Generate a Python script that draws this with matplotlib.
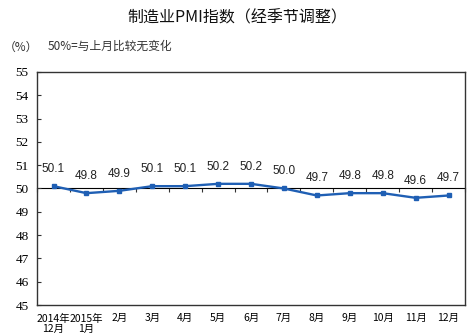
import matplotlib
matplotlib.use("Agg")
import matplotlib.pyplot as plt
import numpy as np

plt.rcParams['font.family'] = ['Noto Sans CJK SC', 'DejaVu Sans']

months = ["2014年\n12月", "2015年\n1月", "2月", "3月", "4月", "5月", "6月",
          "7月", "8月", "9月", "10月", "11月", "12月"]
pmi = [50.1, 49.8, 49.9, 50.1, 50.1, 50.2, 50.2, 50.0, 49.7, 49.8, 49.8, 49.6, 49.7]
yticks = list(range(45, 56))

line_color = "#1f5fb4"

fig = plt.figure(figsize=(4.75, 3.36), dpi=100)
ax = fig.add_axes([0.078, 0.092, 0.901, 0.694])

x = np.arange(len(months))
ax.plot(x, pmi, color=line_color, lw=1.7, marker='s', ms=3.5, mfc=line_color, mec=line_color)
for xi, v in zip(x, pmi):
    ax.annotate(f"{v:.1f}", (xi, v), xytext=(0, 8), textcoords='offset points',
                ha='center', va='bottom', fontsize=8.5, family='Liberation Sans',
                color='#222222')

ax.set_xlim(-0.5, len(months) - 0.5)
ax.set_ylim(45, 55)
ax.set_yticks(yticks)
ax.set_yticklabels([str(t) for t in yticks], family='Liberation Serif', fontsize=9.5)
ax.tick_params(axis='y', direction='in', length=3, width=0.8, pad=6, color='#333333')

ax.set_xticks(x)
ax.set_xticklabels(months, fontsize=7.5, linespacing=1.0)
ax.tick_params(axis='x', length=0, pad=6)

for s in ax.spines.values():
    s.set_color('#333333')
    s.set_linewidth(1)

# reference line at 50 with category boundary ticks
mid = ax.secondary_xaxis(0.5)
mid.set_xticks(np.arange(len(months) + 1) - 0.5)
mid.set_xticklabels([])
mid.tick_params(direction='in', length=3, width=0.8, color='#333333')
mid.spines['bottom'].set_color('#333333')
mid.spines['bottom'].set_linewidth(1)

fig.text(0.5, 0.948, "制造业PMI指数（经季节调整）", ha='center', va='center',
         fontsize=11.5, color='#111111')
fig.text(0.008, 0.86, "（%）", ha='left', va='center', fontsize=8.5, color='#333333')
fig.text(0.1, 0.862, "50%=与上月比较无变化", ha='left', va='center', fontsize=8.5,
         color='#333333')

fig.savefig("out.png", dpi=100)
